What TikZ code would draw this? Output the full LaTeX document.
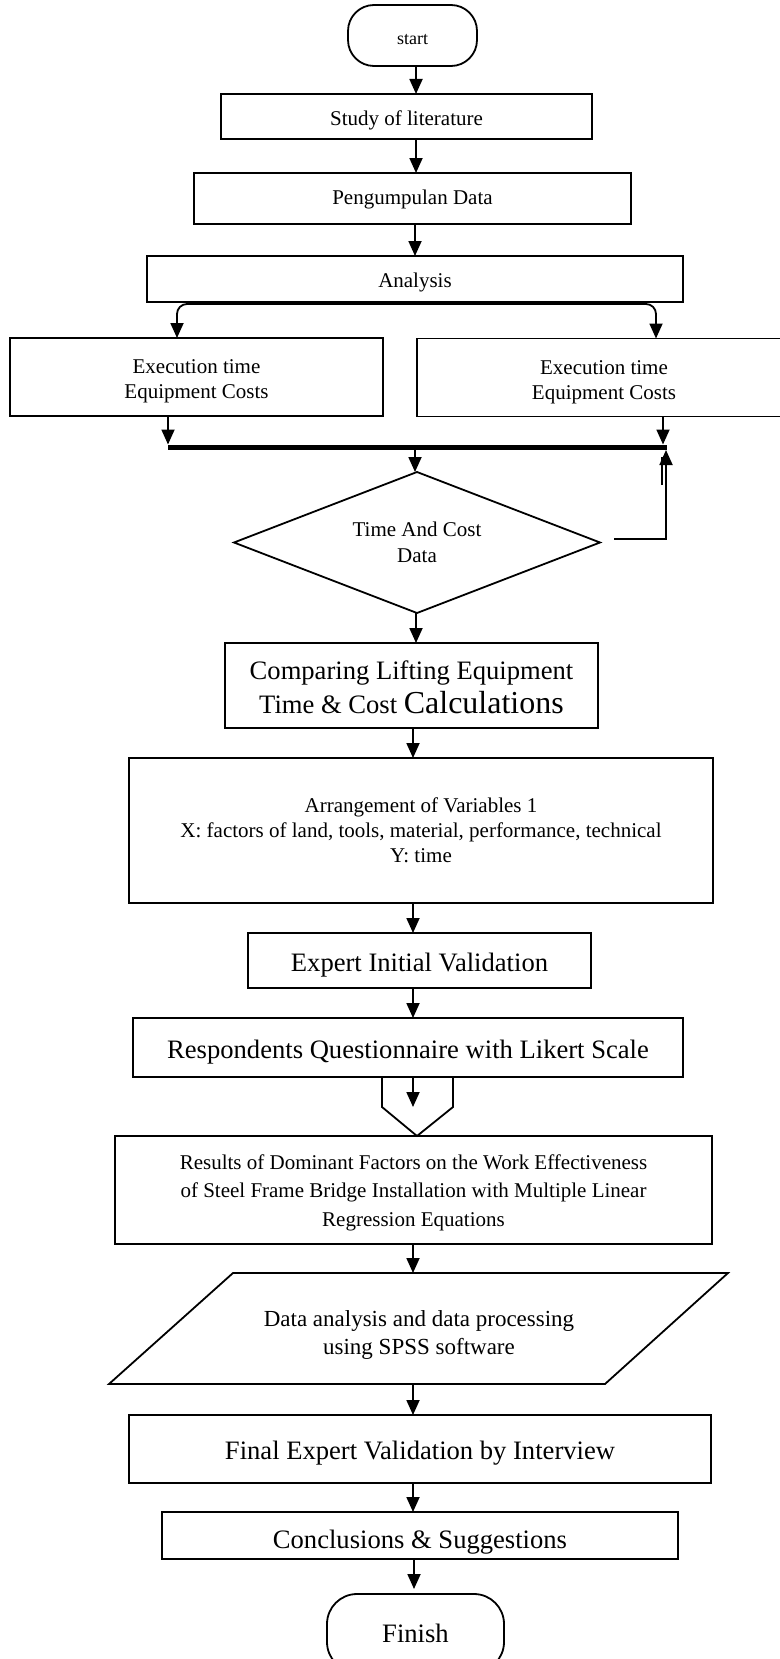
\documentclass[tikz,border=0pt]{standalone}
\usepackage{fontspec}
\setmainfont{Liberation Serif}
\usetikzlibrary{arrows.meta,shapes.geometric}
\newcommand{\lowtxt}[2]{\raisebox{-#1}[\height][\depth]{\begin{tabular}{@{}c@{}}#2\end{tabular}}}
\begin{document}
\begin{tikzpicture}[x=1pt,y=-1pt,
  every node/.style={inner sep=0pt, outer sep=0pt},
  box/.style={draw, line width=1.8pt, rectangle, align=center},
  small/.style={font=\fontsize{21}{25}\selectfont},
  big/.style={font=\fontsize{26.6}{32}\selectfont},
  arr/.style={line width=1.8pt, -{Triangle[length=15pt,width=13pt]}},
  ln/.style={line width=1.8pt},
  bar/.style={line width=5pt}]
\fill[white] (0,0) rectangle (779,1659);
\useasboundingbox (0,0) rectangle (779,1659);

% column coordinates
\coordinate (xa) at (416,0);
\coordinate (xb) at (415,0);
\coordinate (xc) at (413,0);
\coordinate (xL) at (177,0);
\coordinate (xR) at (656,0);

% nodes
\node[box, rounded corners=26pt, minimum width=129pt, minimum height=61pt, font=\fontsize{18}{20}\selectfont] (start) at (412.5,35.5) {\lowtxt{5pt}{start}};
\node[box, small, minimum width=371pt, minimum height=45pt] (lit) at (406.5,116.5) {\lowtxt{4pt}{Study of literature}};
\node[box, small, minimum width=437pt, minimum height=51pt] (peng) at (412.5,198.5) {\lowtxt{1pt}{Pengumpulan Data}};
\node[box, small, minimum width=536pt, minimum height=46pt] (ana) at (415,279) {\lowtxt{3pt}{Analysis}};
\node[box, small, minimum width=373pt, minimum height=78pt] (exL) at (196.5,377) {\lowtxt{4pt}{Execution time\\Equipment Costs}};
\node[box, small, minimum width=374pt, minimum height=78pt] (exR) at (604,377.5) {\lowtxt{4pt}{Execution time\\Equipment Costs}};
\node[draw, diamond, aspect=2.6, ln, align=center, font=\fontsize{21}{26}\selectfont, minimum width=366pt, minimum height=141pt] (dia) at (417,542.5) {\lowtxt{2pt}{Time And Cost\\Data}};
\node[box, font=\fontsize{26.6}{34}\selectfont, minimum width=373pt, minimum height=85pt] (comp) at (411.5,685.5) {\lowtxt{4pt}{Comparing Lifting Equipment\\Time \& Cost {\fontsize{32}{34}\selectfont Calculations}}};
\node[box, small, minimum width=584pt, minimum height=145pt] (arrg) at (421,830.5) {\lowtxt{2pt}{Arrangement of Variables 1\\X: factors of land, tools, material, performance, technical\\Y: time}};
\node[box, big, minimum width=343pt, minimum height=55pt] (eiv) at (419.5,960.5) {\lowtxt{5pt}{Expert Initial Validation}};
\node[box, big, minimum width=550pt, minimum height=59pt] (resp) at (408,1047.5) {\lowtxt{5pt}{Respondents Questionnaire with Likert Scale}};
\node[box, font=\fontsize{21}{28.5}\selectfont, minimum width=597pt, minimum height=108pt] (res) at (413.5,1190) {\lowtxt{2pt}{Results of Dominant Factors on the Work Effectiveness\\of Steel Frame Bridge Installation with Multiple Linear\\Regression Equations}};

% parallelogram
\coordinate (pTL) at (233,1273);
\coordinate (pTR) at (728,1273);
\coordinate (pBR) at (605,1384);
\coordinate (pBL) at (109,1384);
\draw[ln, line join=miter] (pTL) -- (pTR) -- (pBR) -- (pBL) -- cycle;
\node[font=\fontsize{23}{28}\selectfont] (spss) at (419,1331) {\lowtxt{3.5pt}{Data analysis and data processing\\using SPSS software}};

\node[box, big, minimum width=582pt, minimum height=68pt] (fin) at (420,1449) {\lowtxt{4pt}{Final Expert Validation by Interview}};
\node[box, big, minimum width=516pt, minimum height=47pt] (concl) at (420,1535.5) {\lowtxt{7pt}{Conclusions \& Suggestions}};
\node[box, big, rounded corners=30pt, minimum width=177pt, minimum height=78pt] (finish) at (415.5,1633) {Finish};

% arrows top part
\draw[arr] (start.south -| xa) -- (lit.north -| xa);
\draw[arr] (lit.south -| xa) -- (peng.north -| xa);
\draw[arr] (peng.south -| xb) -- (ana.north -| xb);

% analysis split
\coordinate (aC) at (415,304);
\draw[arr, rounded corners=10pt] (aC) -| (exL.north -| xL);
\draw[arr, rounded corners=10pt] (aC) -| (exR.north -| xR);

% collecting bar
\coordinate (barL) at (168,447);
\coordinate (barR) at (667,447);
\coordinate (barRa) at (663,447);
\draw[bar] (barL) -- (barR);
\draw[arr, shorten >=2.5pt] (exL.south -| barL) -- (barL);
\draw[arr, shorten >=2.5pt] (exR.south -| barRa) -- (barRa);
\draw[arr] (barL -| xb) -- (dia.north -| xb);

% feedback from diamond
\coordinate (fbS) at (614,539);
\coordinate (fbE) at (666,450);
\coordinate (dbA) at (662,457);
\coordinate (dbB) at (662,485);
\draw[arr] (fbS) -| (fbE);
\draw[ln] (dbA) -- (dbB);

% middle arrows
\draw[arr] (dia.south -| xa) -- (comp.north -| xa);
\draw[arr] (comp.south -| xc) -- (arrg.north -| xc);
\draw[arr] (arrg.south -| xc) -- (eiv.north -| xc);
\draw[arr] (eiv.south -| xc) -- (resp.north -| xc);

% off-page connector shape
\coordinate (q1) at (382,1077);
\coordinate (q2) at (382,1107);
\coordinate (q3) at (417,1136);
\coordinate (q4) at (453,1107);
\coordinate (q5) at (453,1077);
\coordinate (qin) at (413,1107);
\draw[ln] (q1) -- (q2) -- (q3) -- (q4) -- (q5);
\draw[arr] (resp.south -| qin) -- (qin);

% lower arrows
\draw[arr] (res.south -| xc) -- (pTL -| xc);
\draw[arr] (pBL -| xc) -- (fin.north -| xc);
\draw[arr] (fin.south -| xc) -- (concl.north -| xc);
\coordinate (finTip) at (414,1589);
\draw[arr] (concl.south -| finTip) -- (finTip);
\end{tikzpicture}
\end{document}
